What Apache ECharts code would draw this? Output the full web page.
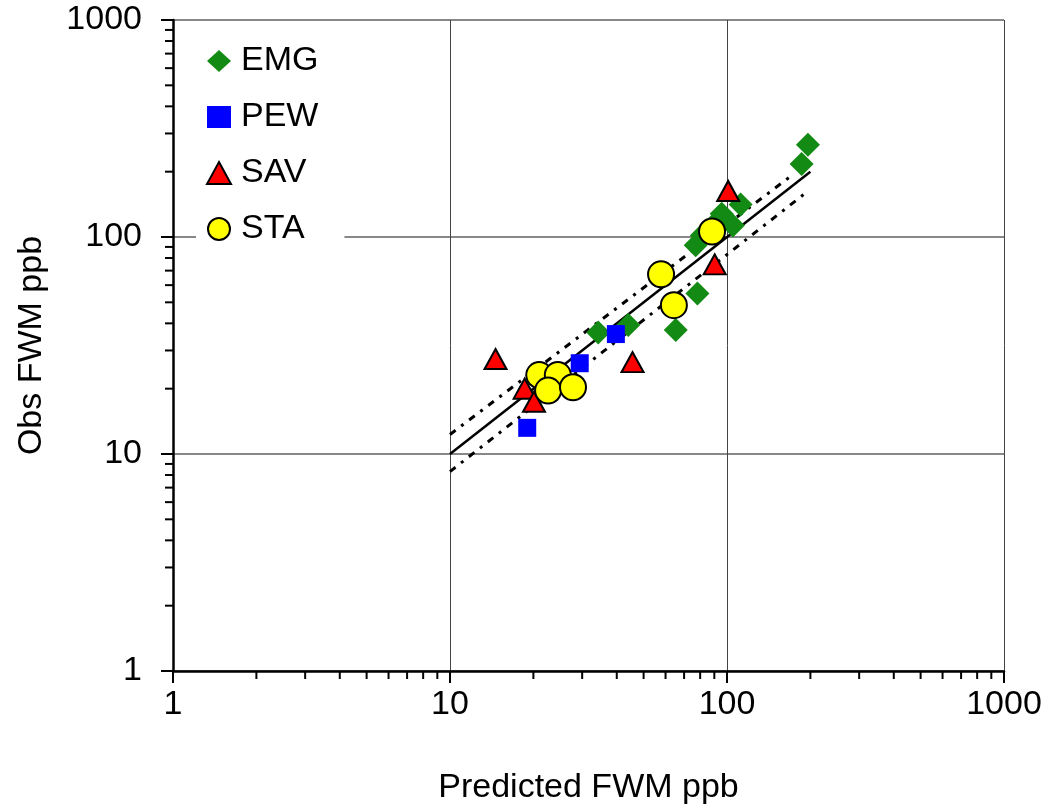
<!DOCTYPE html>
<html>
<head>
<meta charset="utf-8">
<title>Obs vs Predicted FWM</title>
<script src="https://cdn.jsdelivr.net/npm/echarts@6/dist/echarts.min.js"></script>
<style>
html, body { margin: 0; padding: 0; background: #fff; }
#fwm_chart { width: 1047px; height: 810px; }
</style>
</head>
<body>
<div id="fwm_chart"></div>
<script>
// 各站点数据 [predicted, observed]
var emgData = [[34.3, 36.3], [44, 39.3], [65.3, 37.3], [78.2, 54.9], [77.1, 91.5], [81.1, 101.7],
    [88.9, 113], [95.7, 128], [105, 113], [112, 141], [186, 217], [196, 266]];
var pewData = [[19, 13.2], [29.4, 26.2], [39.7, 35.7]];
var savData = [[14.6, 27.4], [18.6, 20], [20.1, 17.4], [45.6, 26.5], [90.3, 74.8], [101, 163]];
var staData = [[21, 23.1], [24.5, 23.1], [22.6, 19.6], [27.8, 20.3], [57.8, 67.3], [64.3, 48.5], [88.3, 106]];

// 1:1 line and the two band lines
var fitLine = [[10, 10], [200, 200]];
var upperLine = [[10, 12.3], [173, 194]];
var lowerLine = [[10, 8.3], [194, 161]];

// minor log ticks (2..9 in each decade)
var minorTicks = [2, 3, 4, 5, 6, 7, 8, 9, 20, 30, 40, 50, 60, 70, 80, 90, 200, 300, 400, 500, 600, 700, 800, 900];

var FONT = 'Liberation Sans';

function echartFwm() {
    var dom = document.getElementById("fwm_chart");
    var myChart = echarts.init(dom);

    //x轴小刻度
    function minorX(params, api) {
        var p = api.coord([api.value(0), 1]);
        return {
            type: 'line',
            shape: { x1: p[0], y1: p[1], x2: p[0], y2: p[1] + 8 },
            style: { stroke: '#000', lineWidth: 2 }
        };
    }
    //y轴小刻度
    function minorY(params, api) {
        var p = api.coord([1, api.value(0)]);
        return {
            type: 'line',
            shape: { x1: p[0], y1: p[1], x2: p[0] - 8, y2: p[1] },
            style: { stroke: '#000', lineWidth: 2 }
        };
    }

    function plainNum(v) {
        return String(v);
    }

    var option = {
        animation: false,
        backgroundColor: '#fff',
        textStyle: { fontFamily: FONT },
        grid: { left: 173, right: 43, top: 20, bottom: 138 },
        legend: {
            data: ['EMG', 'PEW', 'SAV', 'STA'],
            orient: 'vertical',
            left: 196,
            top: 36,
            padding: [8, 26, 8, 10],
            itemGap: 22,
            itemWidth: 24,
            itemHeight: 22,
            backgroundColor: '#fff',
            textStyle: { fontSize: 34, lineHeight: 34, color: '#000', fontFamily: FONT, padding: [0, 0, 0, 5] }
        },
        xAxis: {
            type: 'log',
            logBase: 10,
            min: 1,
            max: 1000,
            name: 'Predicted FWM ppb',
            nameLocation: 'middle',
            nameGap: 100,
            nameTextStyle: { fontSize: 34, color: '#000', fontFamily: FONT },
            axisLine: { lineStyle: { color: '#000', width: 2.5 } },
            axisTick: { length: 12, lineStyle: { color: '#000', width: 2 } },
            axisLabel: { fontSize: 34, color: '#000', margin: 17, fontFamily: FONT, formatter: plainNum },
            splitLine: { show: true, lineStyle: { color: '#444', width: 1 } }
        },
        yAxis: {
            type: 'log',
            logBase: 10,
            min: 1,
            max: 1000,
            name: 'Obs FWM ppb',
            nameLocation: 'middle',
            nameGap: 124,
            nameTextStyle: { fontSize: 34, color: '#000', fontFamily: FONT },
            axisLine: { lineStyle: { color: '#000', width: 2.5 } },
            axisTick: { length: 12, lineStyle: { color: '#000', width: 2 } },
            axisLabel: { fontSize: 34, color: '#000', margin: 31, fontFamily: FONT, formatter: plainNum },
            splitLine: { show: true, lineStyle: { color: '#888', width: 2 } }
        },
        series: [
            {
                name: 'fit', type: 'line', data: fitLine, symbol: 'none', silent: true,
                lineStyle: { color: '#000', width: 2.5 }, z: 1
            },
            {
                name: 'upper', type: 'line', data: upperLine, symbol: 'none', silent: true,
                lineStyle: { color: '#000', width: 3, type: [7, 7, 3, 7] }, z: 1
            },
            {
                name: 'lower', type: 'line', data: lowerLine, symbol: 'none', silent: true,
                lineStyle: { color: '#000', width: 3, type: [7, 7, 3, 7] }, z: 1
            },
            {
                name: 'EMG', type: 'scatter', data: emgData, symbol: 'diamond', symbolSize: 24,
                itemStyle: { color: '#138a13', opacity: 1 }, z: 3
            },
            {
                name: 'PEW', type: 'scatter', data: pewData, symbol: 'rect', symbolSize: 18,
                itemStyle: { color: '#0000ff', opacity: 1 }, z: 3
            },
            {
                name: 'SAV', type: 'scatter', data: savData, symbol: 'triangle', symbolSize: [22, 20],
                itemStyle: { color: '#ff0000', borderColor: '#000', borderWidth: 2, opacity: 1 }, z: 3
            },
            {
                name: 'STA', type: 'scatter', data: staData, symbol: 'circle', symbolSize: 26,
                itemStyle: { color: '#ffff00', borderColor: '#000', borderWidth: 2, opacity: 1 }, z: 3
            },
            {
                name: 'minorX', type: 'custom', data: minorTicks.map(function (v) { return [v]; }),
                renderItem: minorX, clip: false, silent: true, z: 5
            },
            {
                name: 'minorY', type: 'custom', data: minorTicks.map(function (v) { return [v]; }),
                renderItem: minorY, clip: false, silent: true, z: 5
            }
        ]
    };

    myChart.setOption(option, true);
}

echartFwm();
</script>
</body>
</html>
